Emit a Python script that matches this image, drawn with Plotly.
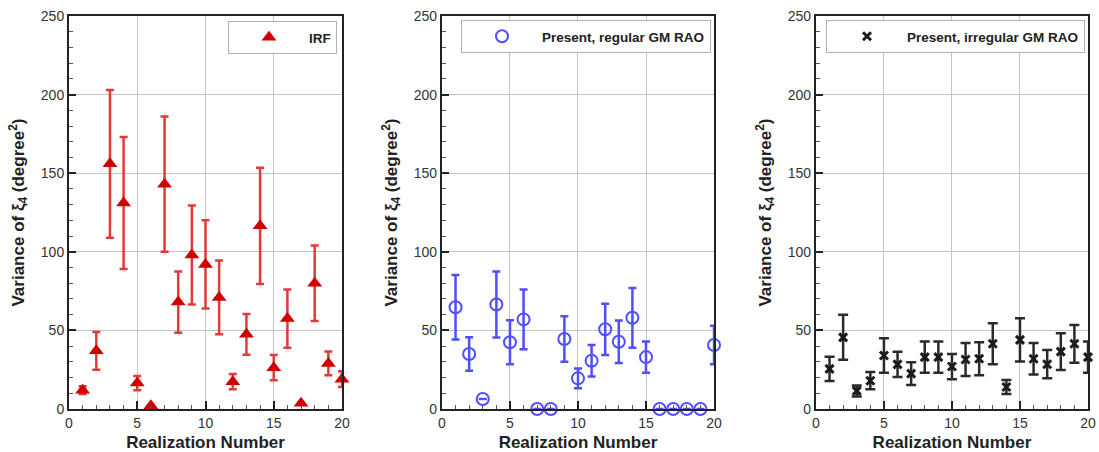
import plotly.graph_objects as go

realization = list(range(1, 21))

irf_mean = [12, 37, 156, 131, 16.5, 2, 143, 68, 98, 92, 71, 17.4, 47.5, 116.5, 26.3, 57.5, 3.6, 80, 29, 19]
irf_err = [2.5, 12, 47, 42, 4.5, 0, 43, 19.5, 31.5, 28, 23.5, 4.8, 13, 37, 8, 18.5, 0, 24, 7.5, 5]

reg_mean = [64.7, 35, 6.4, 66.5, 42.5, 57, 0, 0, 44.5, 19.5, 30.7, 50.7, 42.8, 58, 33, 0, 0, 0, 0, 40.7]
reg_err = [20.5, 10.7, 0, 21, 14, 19, 0, 0, 14.5, 6.3, 10, 16.3, 13.5, 19, 10, 0, 0, 0, 0, 12.3]

irr_mean = [25.5, 45.6, 11.5, 18, 34, 28.4, 22.5, 33, 33, 27, 31.5, 32, 41.5, 14, 44, 32, 28.5, 36.5, 41.5, 33]
irr_err = [7.7, 14.3, 3.5, 5.5, 11, 8, 7.3, 10, 10, 8, 10.5, 10.5, 13, 4.5, 13.8, 10, 9, 11.7, 12, 10]

x_ticks = [0, 5, 10, 15, 20]
y_ticks = [0, 50, 100, 150, 200, 250]

fig = go.Figure()

fig.add_trace(go.Scatter(
    x=realization, y=irf_mean, mode="markers", name="IRF",
    marker=dict(symbol="triangle-up", size=13, color="#d10000"),
    error_y=dict(type="data", array=irf_err, visible=True, color="#e23a3a", thickness=2.5, width=4),
    xaxis="x", yaxis="y", legend="legend", cliponaxis=False,
))
fig.add_trace(go.Scatter(
    x=realization, y=reg_mean, mode="markers", name="Present, regular GM RAO",
    marker=dict(symbol="circle-open", size=12, color="#4f4fff", line=dict(width=2)),
    error_y=dict(type="data", array=reg_err, visible=True, color="#4f4fff", thickness=2.5, width=4),
    xaxis="x2", yaxis="y2", legend="legend2", cliponaxis=False,
))
fig.add_trace(go.Scatter(
    x=realization, y=irr_mean, mode="markers", name="Present, irregular GM RAO",
    marker=dict(symbol="x-thin", size=8, color="#1a1a1a", line=dict(width=3, color="#1a1a1a")),
    error_y=dict(type="data", array=irr_err, visible=True, color="#2a2a2a", thickness=2.5, width=5),
    xaxis="x3", yaxis="y3", legend="legend3", cliponaxis=False,
))

font_ticks = dict(family="Arial, Liberation Sans, sans-serif", size=14, color="#333")
font_title = dict(family="Arial, Liberation Sans, sans-serif", size=17, color="#222", weight="bold")

def xaxis(domain, anchor):
    return dict(
        domain=domain, anchor=anchor, range=[0, 20], tickvals=x_ticks,
        ticks="inside", ticklen=8, tickwidth=2, tickcolor="#222",
        minor=dict(ticks="inside", dtick=1, ticklen=4, tickwidth=1, tickcolor="#555", showgrid=False),
        showgrid=True, gridcolor="#c4c4c4", gridwidth=1,
        showline=True, linecolor="#222", linewidth=2, mirror=True,
        zeroline=False, tickfont=font_ticks, automargin=False, ticklabeloverflow="allow",
        title=dict(text="Realization Number", font=font_title, standoff=6),
    )

def yaxis(anchor):
    return dict(
        domain=[0, 1], anchor=anchor, range=[0, 250], tickvals=y_ticks,
        ticks="inside", ticklen=7, tickwidth=2, tickcolor="#222",
        minor=dict(ticks="inside", dtick=10, ticklen=4, tickwidth=1, tickcolor="#555", showgrid=False),
        showgrid=True, gridcolor="#c4c4c4", gridwidth=1,
        showline=True, linecolor="#222", linewidth=2, mirror=True,
        zeroline=False, tickfont=font_ticks, automargin=False, ticklabeloverflow="allow",
        title=dict(text="Variance of ξ<sub>4</sub> (degree<sup>2</sup>)", font=font_title, standoff=12),
    )

d1 = [0.0, 0.2679]
d2 = [0.366, 0.633]
d3 = [0.733, 1.0]

legend_font = dict(family="Arial, Liberation Sans, sans-serif", size=13.5, color="#222", weight="bold")

def legend(x_right, y_top):
    return dict(
        x=x_right, y=y_top, xanchor="right", yanchor="top",
        bgcolor="white", bordercolor="#b0b0b0", borderwidth=1,
        font=legend_font, itemclick=False, itemwidth=70,
    )

fig.update_layout(
    width=1099, height=452,
    margin=dict(l=69, r=11, t=16, b=43),
    paper_bgcolor="white", plot_bgcolor="white",
    showlegend=True,
    xaxis=xaxis(d1, "y"), yaxis=yaxis("x"),
    xaxis2=xaxis(d2, "y2"), yaxis2=yaxis("x2"),
    xaxis3=xaxis(d3, "y3"), yaxis3=yaxis("x3"),
    legend=legend((337 - 69) / 1019, 1 - (21 - 16) / 393),
    legend2=legend((711 - 69) / 1019, 1 - (20 - 16) / 393),
    legend3=legend((1085 - 69) / 1019, 1 - (20 - 16) / 393),
)

fig.write_html(
    "out.html",
    config={"displayModeBar": False},
    post_script="document.body.style.margin='0px';",
)
